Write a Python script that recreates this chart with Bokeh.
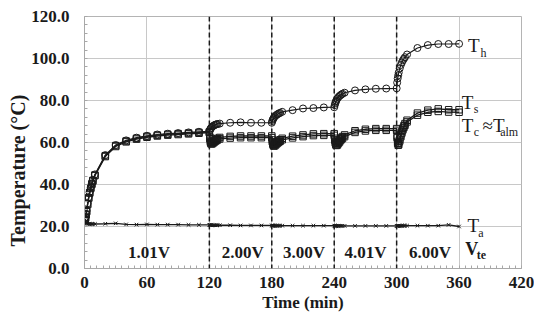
import math
from bokeh.plotting import figure
from bokeh.models import Range1d, FixedTicker, Span, Label, ColumnDataSource, Title
from bokeh.embed import file_html
from bokeh.resources import INLINE

# ---------------- data ----------------
time_min = [0, 0.5, 1, 1.5, 2, 3, 4, 5, 6, 7, 8, 10, 20, 30, 40, 50, 60, 70, 80, 90, 100, 110,
            120, 120.5, 121, 121.5, 122, 123, 124, 125, 126, 127, 128, 130, 140, 150, 160, 170,
            180, 180.5, 181, 181.5, 182, 183, 184, 185, 186, 187, 188, 190, 200, 210, 220, 230,
            240, 240.5, 241, 241.5, 242, 243, 244, 245, 246, 247, 248, 250, 260, 270, 280, 290,
            300, 300.5, 301, 301.5, 302, 303, 304, 305, 306, 307, 308, 310, 320, 330, 340, 350, 360]

T_h = [23.0, 23.5, 24.5, 26.0, 27.5, 31.0, 34.0, 36.5, 38.7, 40.6, 42.2, 44.8, 54.0, 58.8, 61.0, 62.3, 63.2, 63.8, 64.2, 64.5, 64.8, 65.1,
       65.3, 65.9, 66.4, 66.8, 67.1, 67.6, 68.0, 68.3, 68.5, 68.7, 68.8, 69.0, 69.4, 69.6, 69.4, 69.4,
       69.4, 70.2, 70.9, 71.4, 71.8, 72.4, 72.9, 73.3, 73.6, 73.9, 74.1, 74.6, 75.4, 76.2, 76.4, 76.7,
       76.8, 77.8, 78.7, 79.4, 80.0, 80.9, 81.6, 82.1, 82.5, 82.9, 83.2, 83.7, 84.8, 85.3, 85.6, 85.7,
       85.8, 88.5, 90.5, 92.0, 93.3, 95.3, 96.9, 98.1, 99.1, 99.9, 100.6, 101.9, 105.0, 106.4, 106.9, 106.9, 107.0]

T_s = [23.0, 23.4, 24.3, 25.8, 27.3, 30.7, 33.7, 36.2, 38.4, 40.3, 41.9, 44.5, 53.7, 58.5, 60.7, 62.0, 62.9, 63.5, 63.9, 64.2, 64.5, 64.8,
       65.0, 62.5, 61.0, 60.2, 60.0, 60.2, 60.6, 61.0, 61.4, 61.7, 62.0, 62.4, 62.9, 63.1, 63.1, 63.1,
       63.1, 61.2, 60.0, 59.3, 59.0, 59.2, 59.7, 60.2, 60.6, 61.0, 61.3, 62.0, 63.0, 63.6, 64.1, 64.2,
       64.2, 62.0, 60.6, 59.8, 59.4, 59.6, 60.3, 61.0, 61.7, 62.3, 62.8, 63.6, 65.6, 66.3, 66.6, 66.6,
       66.6, 63.0, 60.5, 59.5, 59.8, 61.5, 63.5, 65.3, 66.8, 68.0, 69.0, 70.6, 74.0, 75.4, 76.0, 75.6, 75.6]

T_c = [23.0, 23.3, 24.1, 25.5, 27.0, 30.4, 33.4, 35.9, 38.1, 40.0, 41.6, 44.2, 53.3, 58.1, 60.3, 61.6, 62.5, 63.1, 63.5, 63.8, 64.1, 64.4,
       64.7, 61.8, 60.2, 59.5, 59.3, 59.5, 59.9, 60.3, 60.7, 61.0, 61.3, 61.7, 62.1, 62.3, 62.3, 62.3,
       62.3, 60.4, 59.2, 58.6, 58.3, 58.5, 59.0, 59.5, 59.9, 60.3, 60.6, 61.3, 62.2, 62.8, 63.3, 63.4,
       63.4, 61.2, 59.8, 59.0, 58.6, 58.8, 59.5, 60.2, 60.9, 61.5, 62.0, 62.8, 64.8, 65.5, 65.8, 65.8,
       65.8, 62.2, 59.7, 58.7, 59.0, 60.7, 62.7, 64.5, 66.0, 67.2, 68.2, 69.8, 73.0, 74.4, 74.8, 74.5, 74.4]

T_a = [23.0, 22.2, 21.8, 21.5, 21.4, 21.3, 21.3, 21.2, 21.2, 21.2, 21.2, 21.2, 21.3, 21.5, 21.0, 20.9, 21.0, 20.9, 20.9, 20.9, 20.8, 20.8,
       20.8, 20.7, 20.6, 20.6, 20.6, 20.6, 20.6, 20.6, 20.6, 20.6, 20.6, 20.6, 20.6, 20.5, 20.5, 20.5,
       20.5, 20.4, 20.4, 20.4, 20.4, 20.4, 20.4, 20.4, 20.4, 20.4, 20.4, 20.4, 20.4, 20.4, 20.4, 20.4,
       20.4, 20.3, 20.3, 20.3, 20.3, 20.3, 20.3, 20.3, 20.3, 20.3, 20.3, 20.3, 20.3, 20.3, 20.3, 20.3,
       20.3, 20.3, 20.3, 20.3, 20.3, 20.3, 20.3, 20.4, 20.4, 20.4, 20.4, 20.4, 20.4, 20.4, 20.4, 20.8, 20.0]

step_times = [120, 180, 240, 300]
voltage_labels = ["1.01V", "2.00V", "3.00V", "4.01V", "6.00V"]

x_ticks = [0, 60, 120, 180, 240, 300, 360, 420]
y_ticks = [0, 20, 40, 60, 80, 100, 120]

# ---------------- figure ----------------
SERIF = "Liberation Serif"
INK = "#1a1a1a"

p = figure(width=534, height=315, output_backend="svg", toolbar_location=None,
           x_range=Range1d(0, 420), y_range=Range1d(0, 120),
           min_border_left=84, min_border_right=13, min_border_top=16, min_border_bottom=47)
p.background_fill_color = "white"
p.border_fill_color = "white"
p.outline_line_color = "#b4b4b4"
p.outline_line_width = 1

p.xaxis.ticker = FixedTicker(ticks=x_ticks, minor_ticks=list(range(0, 421, 6)))
p.yaxis.ticker = FixedTicker(ticks=y_ticks, minor_ticks=list(range(0, 121, 4)))
p.yaxis.major_label_overrides = {v: f"{v:.1f}" for v in y_ticks}

for ax in (p.xaxis[0], p.yaxis[0]):
    ax.axis_line_color = "#a8a8a8"
    ax.major_tick_in = 0
    ax.major_tick_out = 0
    ax.minor_tick_in = 3
    ax.minor_tick_out = 0
    ax.minor_tick_line_color = "#a8a8a8"
    ax.major_label_text_font = SERIF
    ax.major_label_text_font_style = "bold"
    ax.major_label_text_font_size = "17px"
    ax.major_label_text_color = INK
    ax.axis_label_text_font = SERIF
    ax.axis_label_text_font_style = "bold"
    ax.axis_label_text_font_size = "17px"
    ax.axis_label_text_color = INK

p.xaxis.major_label_standoff = 8
p.yaxis.major_label_standoff = 15
p.xaxis.axis_label = "Time (min)"
p.xaxis.axis_label_standoff = 2

# y axis title (starts a little above the bottom of the frame, as in the reference)
p.add_layout(Title(text="Temperature (°C)", align="left", offset=22,
                   text_font=SERIF, text_font_style="bold", text_font_size="20px",
                   text_color=INK, standoff=0), "left")

p.grid.grid_line_color = "#c8c8c8"
p.grid.grid_line_width = 1
p.xgrid.ticker = FixedTicker(ticks=x_ticks)
p.ygrid.ticker = FixedTicker(ticks=y_ticks)

for t in step_times:
    p.add_layout(Span(location=t, dimension="height", line_color=INK,
                      line_width=1.5, line_dash="5 3"))

src = ColumnDataSource(dict(t=time_min, th=T_h, ts=T_s, tc=T_c, ta=T_a))

p.line("t", "ta", source=src, line_color=INK, line_width=1.3)
p.scatter("t", "ta", source=src, marker="x", size=5, line_color=INK, line_width=1)

p.line("t", "tc", source=src, line_color=INK, line_width=1.3)
p.scatter("t", "tc", source=src, marker="square", size=6.5, line_color=INK,
          fill_alpha=0, line_width=1)
p.line("t", "ts", source=src, line_color=INK, line_width=1.3)
p.scatter("t", "ts", source=src, marker="square", size=6.5, line_color=INK,
          fill_alpha=0, line_width=1)

p.line("t", "th", source=src, line_color=INK, line_width=1.2)
p.scatter("t", "th", source=src, marker="circle", size=7, line_color=INK,
          fill_alpha=0, line_width=1)

# voltage labels
for lbl, xc in zip(voltage_labels, [62, 152, 211, 270, 332]):
    p.add_layout(Label(x=xc, y=7.5, text=lbl, text_align="center", text_baseline="middle",
                       text_font=SERIF, text_font_style="bold", text_font_size="17px",
                       text_color=INK))


def sym(x, y, main, sub, sx, sy, bold=False, size="19px", subsize="12px"):
    style = "bold" if bold else "normal"
    p.add_layout(Label(x=x, y=y, text=main, text_align="left", text_baseline="middle",
                       text_font=SERIF, text_font_style=style, text_font_size=size,
                       text_color=INK))
    p.add_layout(Label(x=sx, y=sy, text=sub, text_align="left", text_baseline="middle",
                       text_font=SERIF, text_font_style=style, text_font_size=subsize,
                       text_color=INK))


sym(368.5, 106.0, "T", "h", 380.5, 102.5)
sym(362.5, 79.0, "T", "s", 374.0, 76.0)
sym(362.5, 68.0, "T", "c", 374.0, 65.0)
p.add_layout(Label(x=382.5, y=68.0, text="≈T", text_align="left", text_baseline="middle",
                   text_font=SERIF, text_font_size="19px", text_color=INK))
p.add_layout(Label(x=399.5, y=65.0, text="alm", text_align="left", text_baseline="middle",
                   text_font=SERIF, text_font_size="12px", text_color=INK))
sym(368.0, 20.4, "T", "a", 378.5, 17.0)
sym(366.0, 9.1, "V", "te", 377.0, 6.3, bold=True, size="18px", subsize="12px")

open("out.html", "w").write(file_html(p, INLINE))
